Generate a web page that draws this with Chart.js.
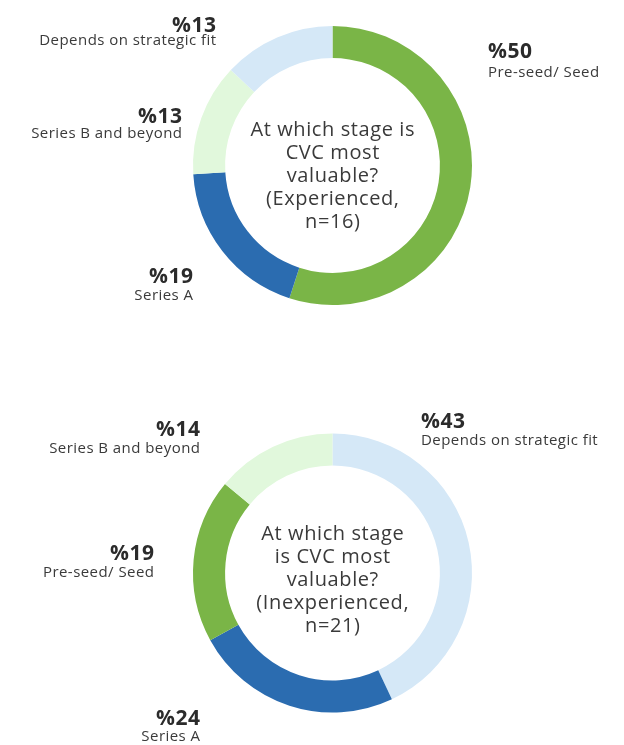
<!DOCTYPE html>
<html>
<head>
<meta charset="utf-8">
<script src="https://cdn.jsdelivr.net/npm/chart.js@4.4.1/dist/chart.umd.min.js"></script>
<style>
  html, body { margin: 0; padding: 0; background: #fff; }
  .wrap { position: relative; width: 624px; height: 745px; }
  .box { position: absolute; left: 0; width: 624px; }
</style>
</head>
<body>
<div class="wrap">
  <div class="box" style="top:0; height:372px;"><canvas id="chartTop"></canvas></div>
  <div class="box" style="top:372px; height:373px;"><canvas id="chartBottom"></canvas></div>
</div>
<script>
// top chart: experienced
const topCategories = ["Pre-seed/ Seed", "Series A", "Series B and beyond", "Depends on strategic fit"];
const topValues = [55, 19, 13, 13];          // arc sizes as drawn
const topPctLabels = ["%50", "%19", "%13", "%13"];
const topColors = ["#7ab547", "#2b6cb0", "#e1f8dc", "#d5e8f7"];
const topCenterText = ["At which stage is", "CVC most", "valuable?", "(Experienced,", "n=16)"];

// bottom chart: inexperienced
const bottomCategories = ["Depends on strategic fit", "Series A", "Pre-seed/ Seed", "Series B and beyond"];
const bottomValues = [43, 24, 19, 14];
const bottomPctLabels = ["%43", "%24", "%19", "%14"];
const bottomColors = ["#d5e8f7", "#2b6cb0", "#7ab547", "#e1f8dc"];
const bottomCenterText = ["At which stage", "is CVC most", "valuable?", "(Inexperienced,", "n=21)"];

const FONT = "'Open Sans', sans-serif";

// label spots, offsets from the ring centre
const topLabelPos = [
  { dx: 155.5, dy: -107.5, dy2: -88.5, align: "left" },
  { dx: -139.5, dy: 117.5, dy2: 134.5, align: "right" },
  { dx: -150.5, dy: -42.5, dy2: -27.5, align: "right" },
  { dx: -116.5, dy: -133.5, dy2: -120.5, align: "right" }
];
const bottomLabelPos = [
  { dx: 88.5, dy: -145, dy2: -128, align: "left" },
  { dx: -132.5, dy: 152, dy2: 168, align: "right" },
  { dx: -178.5, dy: -13, dy2: 4, align: "right" },
  { dx: -132.5, dy: -137, dy2: -120, align: "right" }
];

const donutText = {
  id: "donutText",
  afterDraw(chart, args, opts) {
    const ctx = chart.ctx;
    const arc = chart.getDatasetMeta(0).data[0];
    const cx = arc.x, cy = arc.y;
    ctx.save();
    // centre question
    ctx.fillStyle = "#3a3a3a";
    ctx.font = "20px " + FONT;
    ctx.letterSpacing = "0.6px";
    ctx.textAlign = "center";
    ctx.textBaseline = "middle";
    const lh = 23;
    const start = cy + opts.centerShift - (opts.centerText.length - 1) * lh / 2;
    opts.centerText.forEach((t, i) => ctx.fillText(t, cx + 0.3, start + i * lh));
    // outer labels
    ctx.textBaseline = "alphabetic";
    chart.data.labels.forEach((name, i) => {
      const p = opts.positions[i];
      const shift = p.align === "right" ? 1 : 0;
      ctx.textAlign = p.align;
      ctx.fillStyle = "#2b2b2b";
      ctx.font = "bold 21px " + FONT;
      ctx.letterSpacing = "0.5px";
      ctx.fillText(opts.pct[i], cx + p.dx + shift * 0.5, cy + p.dy);
      ctx.fillStyle = "#3a3a3a";
      ctx.font = "15px " + FONT;
      ctx.letterSpacing = "0.45px";
      ctx.fillText(name, cx + p.dx + shift * 0.45, cy + p.dy2);
    });
    ctx.restore();
  }
};

function makeDonut(id, labels, values, colors, pct, centerText, positions, padding, centerShift) {
  const ctx = document.getElementById(id).getContext("2d");
  return new Chart(ctx, {
    type: "doughnut",
    data: {
      labels: labels,
      datasets: [{
        data: values,
        backgroundColor: colors,
        borderWidth: 0
      }]
    },
    options: {
      responsive: true,
      maintainAspectRatio: false,
      animation: false,
      cutout: "77%",
      layout: { padding: padding },
      plugins: {
        legend: { display: false },
        tooltip: { enabled: false },
        donutText: { pct: pct, centerText: centerText, positions: positions, centerShift: centerShift }
      }
    },
    plugins: [donutText]
  });
}

makeDonut("chartTop", topCategories, topValues, topColors, topPctLabels, topCenterText, topLabelPos,
  { left: 193, right: 152, top: 26, bottom: 67 }, 11);
makeDonut("chartBottom", bottomCategories, bottomValues, bottomColors, bottomPctLabels, bottomCenterText, bottomLabelPos,
  { left: 193, right: 152, top: 61.5, bottom: 32.5 }, 7);
</script>
</body>
</html>
